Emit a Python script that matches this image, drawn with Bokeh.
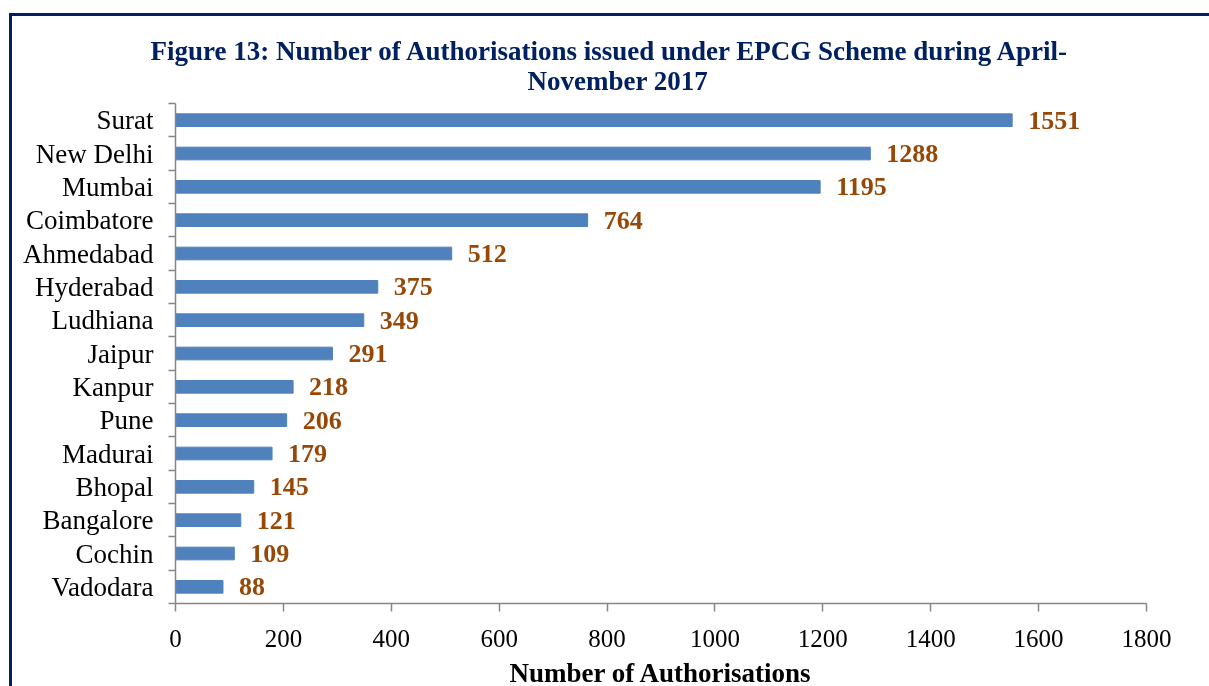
from bokeh.plotting import figure
from bokeh.models import FixedTicker, Title, ColumnDataSource, Range1d
from bokeh.core.properties import value
from bokeh.embed import file_html
from bokeh.resources import INLINE

cities = ["Surat", "New Delhi", "Mumbai", "Coimbatore", "Ahmedabad", "Hyderabad",
          "Ludhiana", "Jaipur", "Kanpur", "Pune", "Madurai", "Bhopal",
          "Bangalore", "Cochin", "Vadodara"]
counts = [1551, 1288, 1195, 764, 512, 375, 349, 291, 218, 206, 179, 145, 121, 109, 88]
x_ticks = [0, 200, 400, 600, 800, 1000, 1200, 1400, 1600, 1800]
title_lines = ["Figure 13: Number of Authorisations issued under EPCG Scheme during April-",
               "November 2017"]
x_title = "Number of Authorisations"

n = len(cities)
pos = [n - i - 0.5 for i in range(n)]
src = ColumnDataSource(dict(city=cities, count=counts, y=pos,
                            lbl=[str(c) for c in counts]))

FONT = "Liberation Serif"
NAVY = "#002060"
BROWN = "#974706"
GRAY = "#868686"

p = figure(width=1200, height=675, output_backend="svg", toolbar_location=None,
           x_range=Range1d(0, 1800), y_range=Range1d(0, n),
           min_border_left=163, min_border_right=66, min_border_top=87,
           min_border_bottom=88,
           styles={"position": "fixed", "top": "13px", "left": "9px",
                   "border-top": "3px solid " + NAVY,
                   "border-left": "3px solid " + NAVY})
p.outline_line_color = None
p.grid.visible = False
p.background_fill_color = "white"

# second line first (closest to the frame), then first line above it
t2 = Title(text=title_lines[1], align="left", offset=352, vertical_align="top",
           text_font=FONT, text_font_size="27px", text_font_style="bold",
           text_color=NAVY, standoff=12)
t1 = Title(text=title_lines[0], align="left", offset=-25, vertical_align="bottom",
           text_font=FONT, text_font_size="27px", text_font_style="bold",
           text_color=NAVY, standoff=-12)
p.add_layout(t2, "above")
p.add_layout(t1, "above")

p.hbar(y="y", right="count", left=0, height=0.38, color="#4f81bd", source=src)
p.text(x="count", y="y", text="lbl", source=src, x_offset=16,
       text_baseline="middle", text_align="left",
       text_font=value(FONT), text_font_size="26px", text_font_style="bold",
       text_color=BROWN)

# x axis
xa = p.xaxis[0]
xa.ticker = FixedTicker(ticks=x_ticks)
xa.axis_line_color = GRAY
xa.axis_line_width = 1.5
xa.major_tick_line_color = GRAY
xa.major_tick_line_width = 1.5
xa.major_tick_out = 8
xa.major_tick_in = 0
xa.minor_tick_line_color = None
xa.major_label_text_font = FONT
xa.major_label_text_font_size = "25px"
xa.major_label_text_color = "black"
xa.major_label_standoff = 18
xa.axis_label = x_title
xa.axis_label_text_font = FONT
xa.axis_label_text_font_size = "27px"
xa.axis_label_text_font_style = "bold"
xa.axis_label_text_color = "black"
xa.axis_label_standoff = 8

# y axis: labels at centres, ticks at category boundaries
ya = p.yaxis[0]
ya.ticker = FixedTicker(ticks=pos, minor_ticks=list(range(n + 1)))
ya.major_label_overrides = {pv: c for pv, c in zip(pos, cities)}
ya.axis_line_color = GRAY
ya.axis_line_width = 1.5
ya.major_tick_line_color = None
ya.major_tick_out = 0
ya.major_tick_in = 0
ya.minor_tick_line_color = GRAY
ya.minor_tick_line_width = 1.5
ya.minor_tick_out = 7
ya.minor_tick_in = 0
ya.major_label_text_font = FONT
ya.major_label_text_font_size = "27px"
ya.major_label_text_color = "black"
ya.major_label_standoff = 15

open("out.html", "w").write(file_html(p, INLINE))
